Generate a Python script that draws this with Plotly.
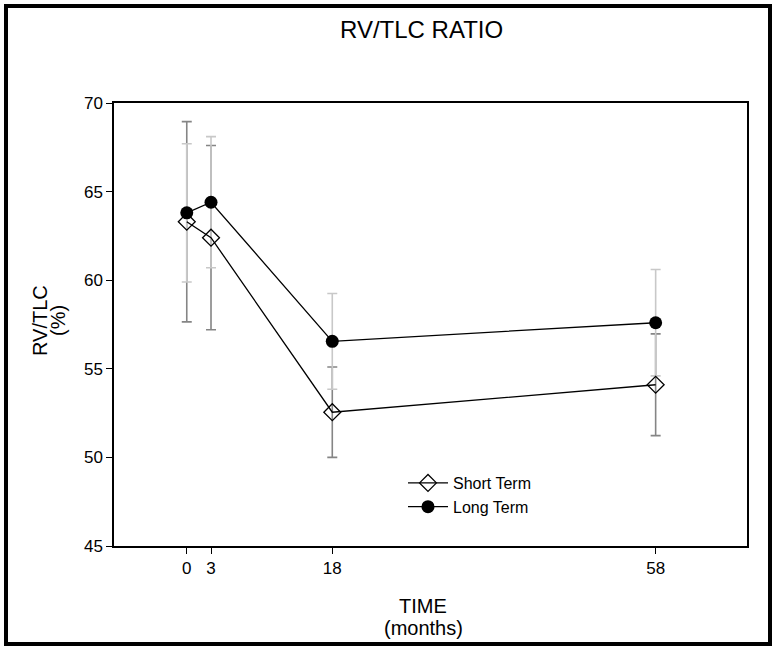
import plotly.graph_objects as go

# Follow-up times (months)
months = [0, 3, 18, 58]
tick_labels = ["0", "3", "18", "58"]

# RV/TLC ratio (%) by group, with error-bar half-widths
short_term = [63.3, 62.4, 52.55, 54.1]
short_err = [5.65, 5.2, 2.55, 2.87]
long_term = [63.8, 64.4, 56.55, 57.6]
long_err = [3.9, 3.7, 2.7, 3.0]

FONT = "Liberation Sans, Arial, sans-serif"

fig = go.Figure()

# error bars first so lines and markers sit on top
fig.add_trace(go.Scatter(
    x=months, y=short_term, mode="markers", marker=dict(size=0.1, color="rgba(0,0,0,0)"),
    error_y=dict(type="data", array=short_err, visible=True, color="#858585",
                 thickness=1.6, width=5),
    showlegend=False, hoverinfo="skip"))
fig.add_trace(go.Scatter(
    x=months, y=long_term, mode="markers", marker=dict(size=0.1, color="rgba(0,0,0,0)"),
    error_y=dict(type="data", array=long_err, visible=True, color="#c8c8c8",
                 thickness=1.6, width=5),
    showlegend=False, hoverinfo="skip"))

fig.add_trace(go.Scatter(
    x=months, y=short_term, mode="lines+markers", name="Short Term",
    line=dict(color="black", width=1.3),
    marker=dict(symbol="diamond-open", size=13, color="black", line=dict(width=1.3))))
fig.add_trace(go.Scatter(
    x=months, y=long_term, mode="lines+markers", name="Long Term",
    line=dict(color="black", width=1.3),
    marker=dict(symbol="circle", size=13, color="black")))

fig.update_xaxes(
    range=[-9.0, 69.3], tickmode="array", tickvals=months, ticktext=tick_labels,
    ticks="outside", ticklen=6, tickwidth=1, tickcolor="black",
    showline=True, linecolor="black", linewidth=1.5, mirror=True,
    showgrid=False, zeroline=False,
    tickfont=dict(family=FONT, size=17, color="black"))
fig.update_yaxes(
    range=[45, 70], tickmode="linear", tick0=45, dtick=5,
    ticks="outside", ticklen=6, tickwidth=1, tickcolor="black",
    showline=True, linecolor="black", linewidth=1.5, mirror=True,
    showgrid=False, zeroline=False,
    tickfont=dict(family=FONT, size=17, color="black"))

L, R, T, B = 114, 28, 103, 102
W, H = 775, 648
pw, ph = W - L - R, H - T - B

def px_x(x):
    return (x - L) / pw

def px_y(y):
    return (H - B - y) / ph

def label(text, x, y, size, angle=0):
    return dict(text=text, xref="paper", yref="paper", x=px_x(x), y=px_y(y),
                xanchor="center", yanchor="middle", textangle=angle,
                showarrow=False, font=dict(family=FONT, size=size))

fig.update_layout(
    width=W, height=H,
    margin=dict(l=L, r=R, t=T, b=B, autoexpand=False),
    paper_bgcolor="white", plot_bgcolor="white",
    font=dict(family=FONT, color="black"),
    legend=dict(x=px_x(403), y=px_y(466), xanchor="left", yanchor="top",
                bgcolor="rgba(0,0,0,0)", font=dict(family=FONT, size=16),
                tracegroupgap=0, itemwidth=40),
    shapes=[dict(type="rect", xref="paper", yref="paper",
                 x0=px_x(6), x1=px_x(770), y0=px_y(644), y1=px_y(6),
                 line=dict(color="black", width=4))],
    annotations=[
        label("RV/TLC RATIO", 421, 29, 24),
        label("TIME", 423, 606, 20),
        label("(months)", 423, 628, 20),
        label("RV/TLC", 40, 321, 20, -90),
        label("(%)", 58, 321, 20, -90),
    ],
)

fig.write_html("out.html")
